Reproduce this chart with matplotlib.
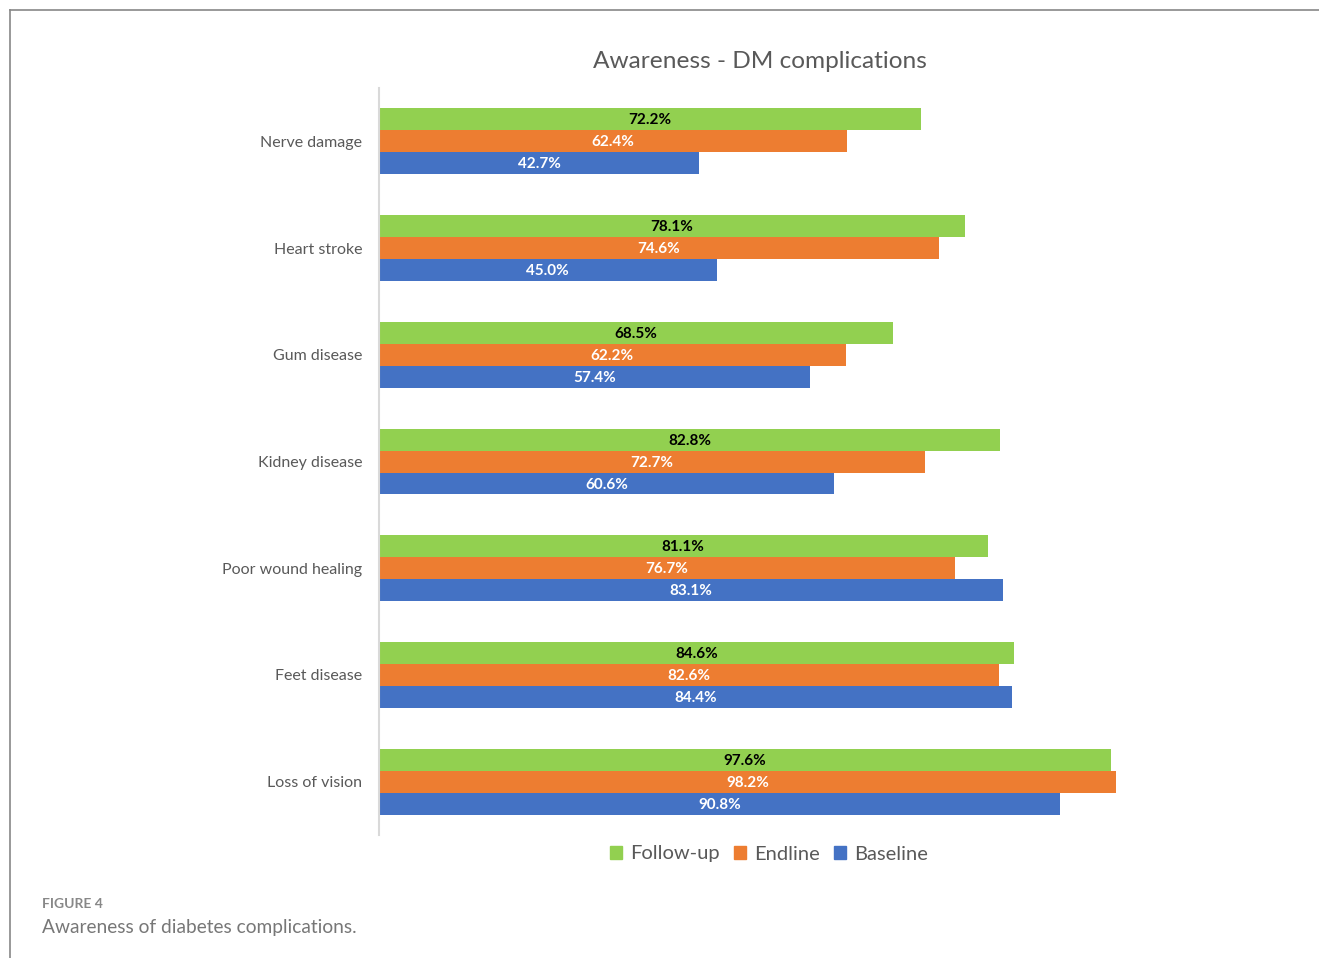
import matplotlib.pyplot as plt
from matplotlib.lines import Line2D
from matplotlib.patches import Patch
import numpy as np

categories = ["Nerve damage", "Heart stroke", "Gum disease", "Kidney disease",
              "Poor wound healing", "Feet disease", "Loss of vision"]
follow_up = [72.2, 78.1, 68.5, 82.8, 81.1, 84.6, 97.6]
endline = [62.4, 74.6, 62.2, 72.7, 76.7, 82.6, 98.2]
baseline = [42.7, 45.0, 57.4, 60.6, 83.1, 84.4, 90.8]

green = "#92D050"
orange = "#ED7D31"
blue = "#4472C4"
gray_text = "#595959"

plt.rcParams['font.family'] = ['Lato', 'DejaVu Sans']

fig = plt.figure(figsize=(13.19, 9.58), dpi=100)
ax = fig.add_axes([0.2873, 0.1284, 0.569, 0.7797])

y = np.arange(len(categories))
h = 0.206
series = [(follow_up, green, "Follow-up", -h, "black"),
          (endline, orange, "Endline", 0, "white"),
          (baseline, blue, "Baseline", h, "white")]
for vals, col, name, off, tc in series:
    bars = ax.barh(y + off, vals, height=h, color=col, label=name)
    for b, v in zip(bars, vals):
        ax.text(b.get_width() / 2, b.get_y() + b.get_height() / 2 + 0.01, f"{v:.1f}%",
                ha="center", va="center", color=tc, fontsize=11, fontweight="bold")

ax.set_xlim(0, 100)
ax.set_ylim(len(categories) - 0.5, -0.5)
ax.set_yticks(y)
ax.set_yticklabels(categories, fontsize=11.5, color=gray_text)
ax.tick_params(axis="y", length=0, pad=12)
ax.set_xticks([])
for s in ["top", "right", "bottom"]:
    ax.spines[s].set_visible(False)
ax.spines["left"].set_color("#D9D9D9")
ax.spines["left"].set_linewidth(1.5)

fig.text(760 / 1319, 1 - 62 / 958, "Awareness - DM complications", ha="center",
         va="center", fontsize=17.6, color=gray_text)

handles = [Patch(color=c, label=n) for _, c, n, _, _ in series]
fig.legend(handles=handles, loc="center", bbox_to_anchor=(769 / 1319, 1 - 854 / 958),
           ncol=3, frameon=False, fontsize=14.5, handlelength=0.6, handleheight=0.6,
           handletextpad=0.4, columnspacing=0.7, labelcolor=gray_text)

fig.text(42 / 1319, 1 - 904 / 958, "FIGURE 4", ha="left", va="center",
         fontsize=10, color="#888888", fontweight="bold")
fig.text(42 / 1319, 1 - 927 / 958, "Awareness of diabetes complications.", ha="left",
         va="center", fontsize=13.8, color="#777777")

# page frame
fig.add_artist(Line2D([10 / 1319, 1], [1 - 10 / 958, 1 - 10 / 958], color="#888888", lw=1.2))
fig.add_artist(Line2D([10 / 1319, 10 / 1319], [0, 1 - 10 / 958], color="#888888", lw=1.2))

fig.savefig("out.png", dpi=100, facecolor="white")
